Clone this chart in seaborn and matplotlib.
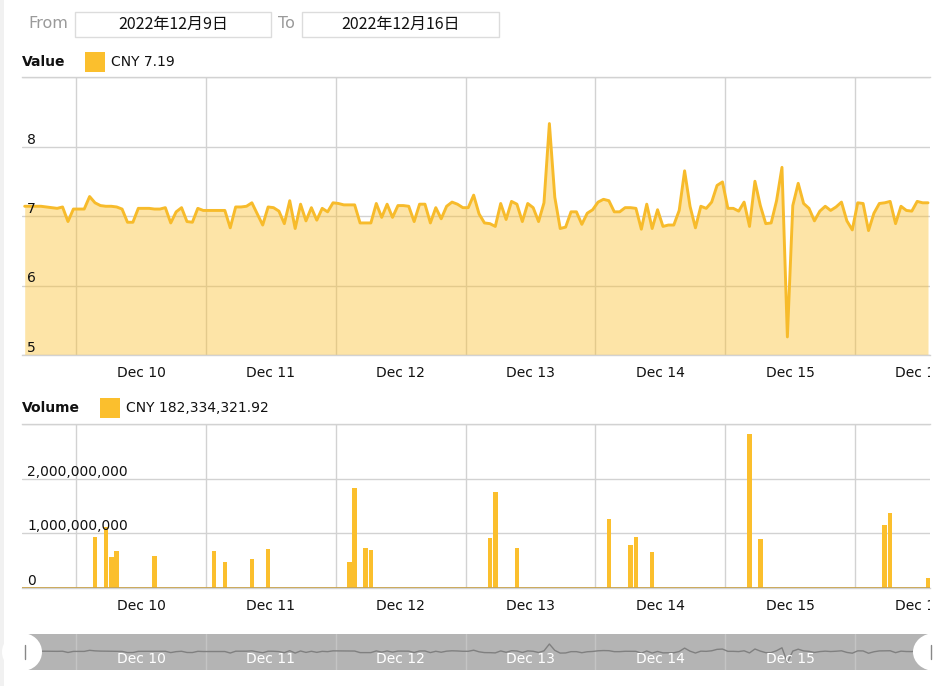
import matplotlib
matplotlib.use("Agg")
import numpy as np
import pandas as pd
import matplotlib.pyplot as plt
import matplotlib.dates as mdates
import matplotlib.transforms as mtrans
from matplotlib.patches import Rectangle, Ellipse
from matplotlib.ticker import FixedLocator, NullFormatter, FuncFormatter
import seaborn as sns

# hourly CNY price, first hour 2022-12-09 14:00, last 2022-12-16 13:00
start_hour = "2022-12-09 14:00"
value = [
    7.14, 7.14, 7.14, 7.14, 7.13, 7.12, 7.11, 7.13, 6.92, 7.10,
    7.10, 7.10, 7.28, 7.19, 7.15, 7.14, 7.14, 7.13, 7.10, 6.91,
    6.91, 7.11, 7.11, 7.11, 7.10, 7.10, 7.12, 6.90, 7.06, 7.12,
    6.92, 6.91, 7.11, 7.08, 7.08, 7.08, 7.08, 7.08, 6.83, 7.13,
    7.13, 7.14, 7.19, 7.03, 6.87, 7.13, 7.12, 7.07, 6.89, 7.22,
    6.82, 7.17, 6.93, 7.12, 6.94, 7.11, 7.06, 7.19, 7.18, 7.16,
    7.16, 7.16, 6.90, 6.90, 6.90, 7.18, 6.98, 7.17, 6.98, 7.15,
    7.15, 7.14, 6.92, 7.17, 7.17, 6.90, 7.12, 6.96, 7.14, 7.20,
    7.17, 7.12, 7.12, 7.30, 7.03, 6.90, 6.89, 6.85, 7.18, 6.95,
    7.21, 7.17, 6.92, 7.18, 7.12, 6.92, 7.19, 8.33, 7.27, 6.82,
    6.84, 7.06, 7.06, 6.88, 7.04, 7.09, 7.20, 7.24, 7.22, 7.06,
    7.06, 7.12, 7.12, 7.11, 6.81, 7.17, 6.82, 7.09, 6.85, 6.87,
    6.87, 7.08, 7.65, 7.14, 6.83, 7.14, 7.11, 7.20, 7.44, 7.49,
    7.11, 7.11, 7.07, 7.20, 6.85, 7.50, 7.15, 6.89, 6.90, 7.22,
    7.70, 5.26, 7.15, 7.47, 7.18, 7.11, 6.93, 7.07, 7.14, 7.08,
    7.13, 7.20, 6.93, 6.80, 7.19, 7.18, 6.79, 7.04, 7.18, 7.19,
    7.21, 6.89, 7.14, 7.08, 7.07, 7.21, 7.19, 7.19,
]

# hours with a non-zero volume (all other hours are 0)
vol_times = [
    "2022-12-10 03:00", "2022-12-10 05:00", "2022-12-10 06:00", "2022-12-10 07:00",
    "2022-12-10 14:00", "2022-12-11 01:00", "2022-12-11 03:00", "2022-12-11 08:00",
    "2022-12-11 11:00", "2022-12-12 02:00", "2022-12-12 03:00", "2022-12-12 05:00",
    "2022-12-12 06:00", "2022-12-13 04:00", "2022-12-13 05:00", "2022-12-13 09:00",
    "2022-12-14 02:00", "2022-12-14 06:00", "2022-12-14 07:00", "2022-12-14 10:00",
    "2022-12-15 04:00", "2022-12-15 06:00", "2022-12-16 05:00", "2022-12-16 06:00",
    "2022-12-16 13:00",
]
vol_values = [
    0.94e9, 1.12e9, 0.56e9, 0.68e9,
    0.58e9, 0.67e9, 0.48e9, 0.53e9,
    0.71e9, 0.48e9, 1.83e9, 0.74e9,
    0.70e9, 0.92e9, 1.76e9, 0.74e9,
    1.26e9, 0.79e9, 0.94e9, 0.65e9,
    2.81e9, 0.90e9, 1.15e9, 1.38e9,
    182334321.92,
]

day_labels = ["Dec 10", "Dec 11", "Dec 12", "Dec 13", "Dec 14", "Dec 15", "Dec 16"]
value_ticks = [5, 6, 7, 8]
volume_ticks = [0, 1e9, 2e9]

YELLOW = "#fbbf2d"
LINE = "#f7bb2b"
GRID = "#d2d2d2"

sns.set_style("white")
plt.rcParams["font.family"] = ["DejaVu Sans", "Noto Sans CJK SC"]

hours = pd.date_range(start_hour, periods=len(value), freq="h")
vol = pd.Series(vol_values, index=pd.to_datetime(vol_times)).reindex(hours, fill_value=0.0)
# points sit in the middle of their hour
xnum = mdates.date2num(hours + pd.Timedelta(minutes=30))
df = pd.DataFrame({"t": xnum, "value": value, "volume": vol.values})

midnights = mdates.date2num(pd.date_range("2022-12-10", "2022-12-16", freq="D"))
noons = midnights + 0.5
xmin = mdates.date2num(pd.Timestamp(start_hour))
xmax = mdates.date2num(pd.Timestamp("2022-12-16 13:52"))

W, H = 947, 686
fig = plt.figure(figsize=(W / 100, H / 100), dpi=100)
fig.patch.set_facecolor("white")


def fx(px):
    return px / W


def fy(py):
    return 1 - py / H


ax_v = fig.add_axes([fx(22), fy(355), 908 / W, 278 / H])
ax_b = fig.add_axes([fx(22), fy(588), 908 / W, 164 / H])
ax_n = fig.add_axes([fx(22), fy(670), 908 / W, 36 / H])

# value panel
ax_v.fill_between(df["t"], df["value"], 0, color=YELLOW, alpha=0.42, linewidth=0, zorder=1)
sns.lineplot(data=df, x="t", y="value", ax=ax_v, color=LINE, linewidth=2.1, legend=False, zorder=3)
ax_v.set_ylim(5, 9)
ax_v.yaxis.set_major_locator(FixedLocator([5, 6, 7, 8, 9]))

# volume panel
sns.barplot(data=df, x="t", y="volume", ax=ax_b, native_scale=True, orient="x",
            color=YELLOW, saturation=1, width=0.85, errorbar=None,
            linewidth=0, edgecolor="none", zorder=3)
ax_b.axhline(0, color="#c9a44f", linewidth=1.3, zorder=4)
ax_b.set_ylim(0, 3e9)
ax_b.yaxis.set_major_locator(FixedLocator([0, 1e9, 2e9, 3e9]))

for ax in (ax_v, ax_b):
    ax.set_xlim(xmin, xmax)
    ax.set_xlabel("")
    ax.set_ylabel("")
    ax.xaxis.set_major_locator(FixedLocator(midnights))
    ax.xaxis.set_major_formatter(NullFormatter())
    ax.xaxis.set_minor_locator(FixedLocator(noons))
    ax.xaxis.set_minor_formatter(FuncFormatter(lambda v, p: f"Dec {mdates.num2date(v).day}"))
    ax.yaxis.set_major_formatter(NullFormatter())
    ax.tick_params(axis="both", which="both", length=0)
    ax.tick_params(axis="x", which="minor", labelsize=10, pad=8, labelcolor="#111111")
    ax.grid(True, which="major", color=GRID, linewidth=1)
    ax.set_axisbelow(True)
    for side in ("left", "right"):
        ax.spines[side].set_visible(False)
    for side in ("top", "bottom"):
        ax.spines[side].set_color(GRID)
        ax.spines[side].set_linewidth(1)

tr_v = mtrans.blended_transform_factory(ax_v.transAxes, ax_v.transData)
for v in value_ticks:
    ax_v.text(5 / 908, v, str(v), transform=tr_v, ha="left", va="bottom",
              fontsize=10, color="#111111", zorder=6)
tr_b = mtrans.blended_transform_factory(ax_b.transAxes, ax_b.transData)
for v in volume_ticks:
    ax_b.text(5 / 908, v, f"{int(v):,}", transform=tr_b, ha="left", va="bottom",
              fontsize=10, color="#111111", zorder=6)

# navigator
ax_n.set_facecolor("#b4b4b4")
sns.lineplot(data=df, x="t", y="value", ax=ax_n, color="#808080", linewidth=1, legend=False, zorder=3)
ax_n.set_xlim(xmin, xmax)
ax_n.set_ylim(4, 10)
ax_n.set_xticks(midnights)
ax_n.set_yticks([])
ax_n.grid(True, axis="x", color="#c4c4c4", linewidth=1)
ax_n.set_axisbelow(True)
ax_n.tick_params(length=0, labelbottom=False)
ax_n.set_xlabel("")
ax_n.set_ylabel("")
for s in ax_n.spines.values():
    s.set_visible(False)
for x, lab in zip(noons[:-1], day_labels[:-1]):
    ax_n.text(x, 0.3, lab, transform=mtrans.blended_transform_factory(ax_n.transData, ax_n.transAxes),
              ha="center", va="center", color="white", fontsize=10, zorder=5)

# navigator handles
fig.add_artist(Ellipse((fx(22), fy(652)), 40 / W, 38 / H, transform=fig.transFigure,
                       facecolor="white", edgecolor="none", zorder=8))
fig.add_artist(Ellipse((fx(935), fy(652)), 44 / W, 38 / H, transform=fig.transFigure,
                       facecolor="white", edgecolor="none", zorder=8))
fig.add_artist(plt.Line2D([fx(25), fx(25)], [fy(645), fy(659)], transform=fig.transFigure,
                          color="#888888", linewidth=1, zorder=9))
fig.add_artist(plt.Line2D([fx(931), fx(931)], [fy(645), fy(659)], transform=fig.transFigure,
                          color="#888888", linewidth=1, zorder=9))

# clip the last day label at the chart edge
for top, bottom in ((358, 392), (590, 622)):
    fig.add_artist(Rectangle((fx(930), fy(bottom)), (W - 930) / W, (bottom - top) / H,
                             transform=fig.transFigure, facecolor="white", edgecolor="none", zorder=10))

# light page strip at the left
fig.add_artist(Rectangle((0, 0), 4 / W, 1, transform=fig.transFigure,
                         facecolor="#f1f1f1", edgecolor="none", zorder=0))

# date range header
fig.text(fx(28), fy(24), "From", ha="left", va="center", fontsize=11.5, color="#9a9a9a")
fig.text(fx(278), fy(24), "To", ha="left", va="center", fontsize=11.5, color="#9a9a9a")
for (x0, x1), label in (((75, 271), "2022年12月9日"), ((302, 499), "2022年12月16日")):
    fig.add_artist(Rectangle((fx(x0), fy(37)), (x1 - x0) / W, 25 / H, transform=fig.transFigure,
                             facecolor="white", edgecolor="#dcdcdc", linewidth=1))
    fig.text(fx((x0 + x1) / 2), fy(24.5), label, ha="center", va="center", fontsize=11.5,
             color="#111111", family=["Noto Sans CJK SC", "DejaVu Sans"])

# panel legends
fig.text(fx(22), fy(62), "Value", ha="left", va="center", fontsize=10, fontweight="bold", color="#111111")
fig.add_artist(Rectangle((fx(85), fy(72)), 20 / W, 20 / H, transform=fig.transFigure,
                         facecolor=YELLOW, edgecolor="none"))
fig.text(fx(111), fy(62), "CNY 7.19", ha="left", va="center", fontsize=10, color="#111111")

fig.text(fx(22), fy(408), "Volume", ha="left", va="center", fontsize=10, fontweight="bold", color="#111111")
fig.add_artist(Rectangle((fx(100), fy(418)), 20 / W, 20 / H, transform=fig.transFigure,
                         facecolor=YELLOW, edgecolor="none"))
fig.text(fx(126), fy(408), "CNY 182,334,321.92", ha="left", va="center", fontsize=10, color="#111111")

fig.savefig("out.png", dpi=100)
